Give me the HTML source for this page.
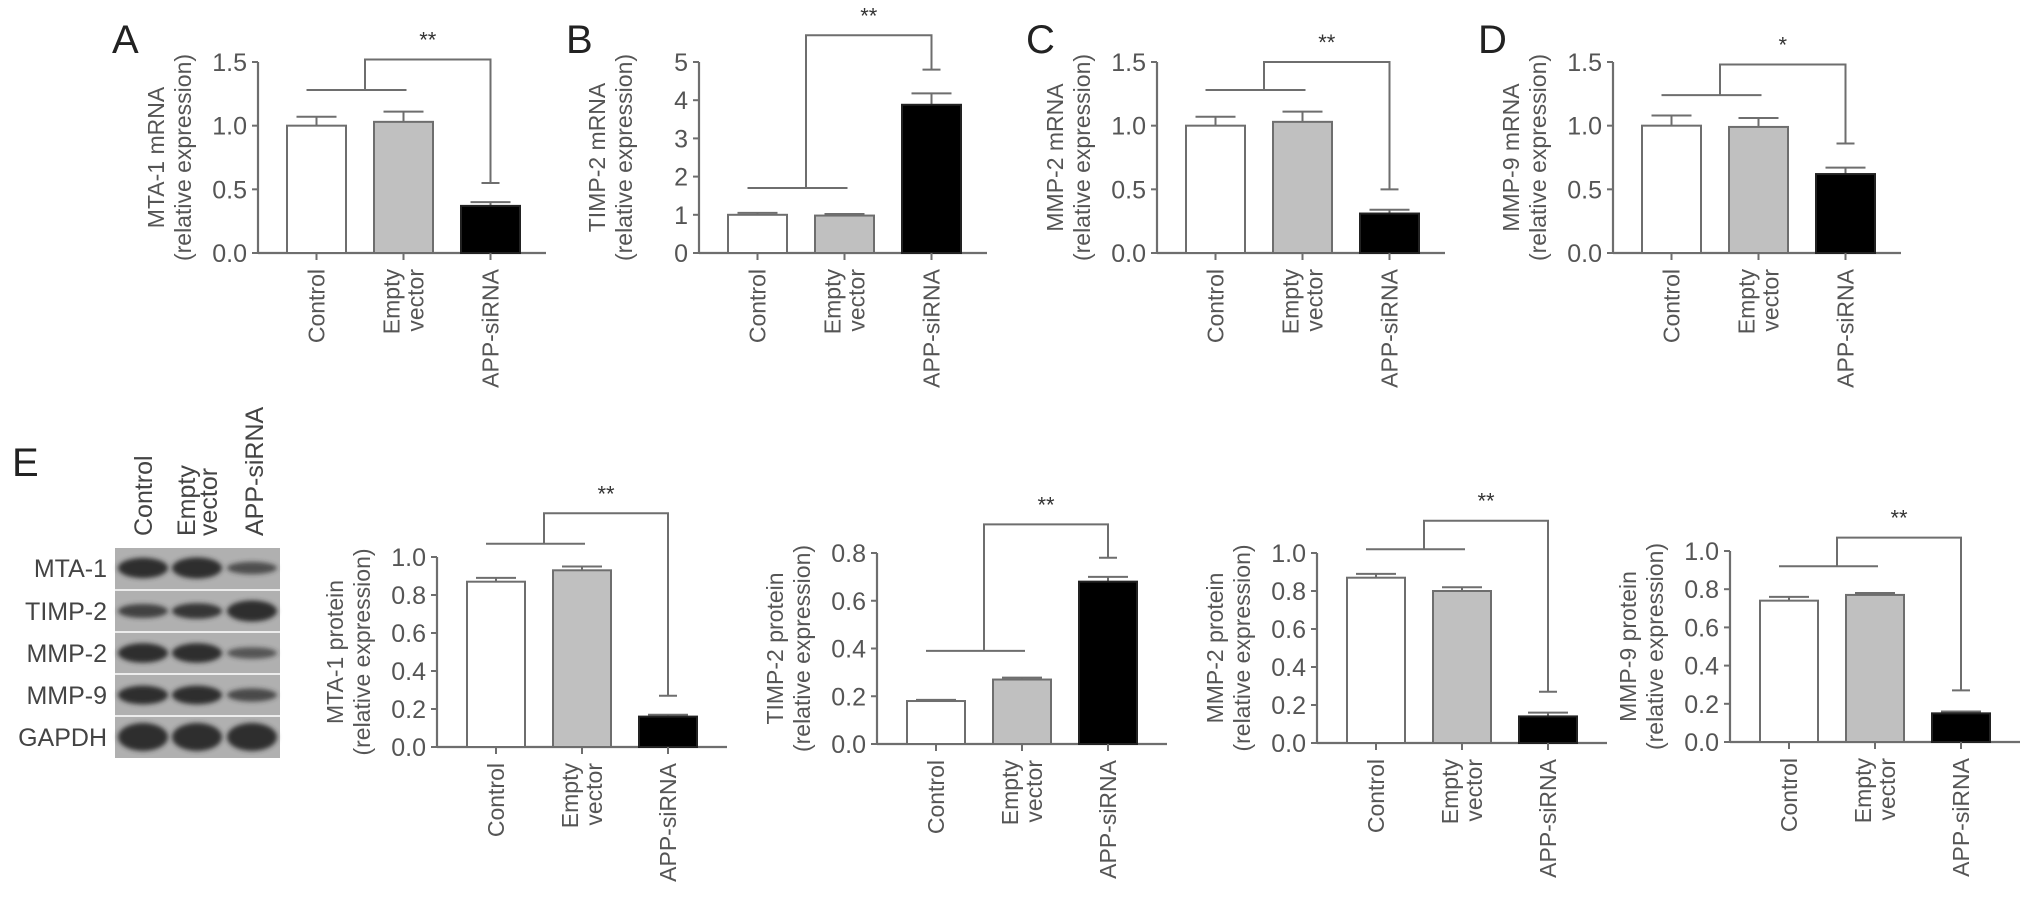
<!DOCTYPE html>
<html><head><meta charset="utf-8">
<style>
html,body{margin:0;padding:0;background:#fff;}
svg{display:block;font-family:"Liberation Sans",Arial,sans-serif;}
</style></head>
<body>
<svg id="fig" width="2032" height="914" viewBox="0 0 2032 914" xmlns="http://www.w3.org/2000/svg">
<defs>
<filter id="blur" x="-20%" y="-50%" width="140%" height="200%"><feGaussianBlur stdDeviation="2.5"/></filter>
</defs>
<g id="blot"></g>
<g id="charts"></g>
</svg>
<script>
const categories = ["Control", "Empty vector", "APP-siRNA"];
const fills = ["#ffffff", "#c0c0c0", "#000000"];

const valuesA = [1.0, 1.03, 0.37];
const errorsA = [0.07, 0.08, 0.03];
const valuesB = [1.0, 0.98, 3.88];
const errorsB = [0.05, 0.04, 0.30];
const valuesC = [1.0, 1.03, 0.31];
const errorsC = [0.07, 0.08, 0.03];
const valuesD = [1.0, 0.99, 0.62];
const errorsD = [0.08, 0.07, 0.05];
const valuesE1 = [0.87, 0.93, 0.16];
const errorsE1 = [0.02, 0.02, 0.01];
const valuesE2 = [0.18, 0.27, 0.68];
const errorsE2 = [0.005, 0.008, 0.02];
const valuesE3 = [0.87, 0.80, 0.14];
const errorsE3 = [0.02, 0.02, 0.02];
const valuesE4 = [0.74, 0.77, 0.15];
const errorsE4 = [0.02, 0.01, 0.01];

const ticksA = ["0.0", "0.5", "1.0", "1.5"];
const ticksB = ["0", "1", "2", "3", "4", "5"];
const ticksProt = ["0.0", "0.2", "0.4", "0.6", "0.8", "1.0"];
const ticksTimp = ["0.0", "0.2", "0.4", "0.6", "0.8"];

const bracketA = [1.28, 1.52, 0.55];
const bracketB = [1.7, 5.7, 4.8];
const bracketC = [1.28, 1.5, 0.5];
const bracketD = [1.24, 1.48, 0.86];
const bracketE1 = [1.07, 1.23, 0.27];
const bracketE2 = [0.39, 0.92, 0.78];
const bracketE3 = [1.02, 1.17, 0.27];
const bracketE4 = [0.92, 1.07, 0.27];

const blotRows = ["MTA-1", "TIMP-2", "MMP-2", "MMP-9", "GAPDH"];
const bandIntensity = [[0.9, 0.95, 0.4], [0.5, 0.6, 0.95], [0.85, 0.85, 0.35], [0.8, 0.8, 0.45], [1, 1, 1]];

const NS = "http://www.w3.org/2000/svg";
const svg = document.getElementById("fig");
const chartsG = document.getElementById("charts");
function mk(tag, attrs, parent) {
  const e = document.createElementNS(NS, tag);
  for (const k in attrs) e.setAttribute(k, attrs[k]);
  (parent || svg).appendChild(e);
  return e;
}
const LINE = "#6e6e6e", TXT = "#555";

function chart(o) {
  const g = mk("g", {}, chartsG);
  
  
  const y = v => o.y0 - (v / o.max) * (o.y0 - o.yTop);
  const cx = i => o.ax + o.off + o.bw / 2 + i * o.step;
  const ya = mk("line", {x1: o.ax, y1: o.yTop, x2: o.ax, y2: o.y0, stroke: LINE, "stroke-width": 2.2}, g);
  
  
  const xa = mk("line", {x1: o.ax, y1: o.y0, x2: o.ax + o.len, y2: o.y0, stroke: LINE, "stroke-width": 2.2}, g);
  
  
  o.ticks.forEach((t) => {
    const v = parseFloat(t), yy = y(v);
    mk("line", {x1: o.ax - 6, y1: yy, x2: o.ax, y2: yy, stroke: LINE, "stroke-width": 2}, g);
    const tl = mk("text", {x: o.ax - 11, y: yy + 9, "text-anchor": "end", "font-size": 25, fill: TXT}, g);
    tl.textContent = t;
    
    
  });
  const ty = (o.yTop + o.y0) / 2;
  const t1 = mk("text", {x: 0, y: 0, "text-anchor": "middle", "font-size": 23, fill: TXT, transform: `translate(${o.ax - 94},${ty}) rotate(-90)`}, g);
  t1.textContent = o.title;
  
  
  const t2 = mk("text", {x: 0, y: 0, "text-anchor": "middle", "font-size": 23, fill: TXT, transform: `translate(${o.ax - 67},${ty}) rotate(-90)`}, g);
  t2.textContent = "(relative expression)";
  
  
  o.vals.forEach((v, i) => {
    const c = cx(i), barTop = y(v), eTop = y(v + o.errs[i]);
    mk("line", {x1: c, y1: barTop, x2: c, y2: eTop, stroke: LINE, "stroke-width": 2}, g);
    mk("line", {x1: c - 20, y1: eTop, x2: c + 20, y2: eTop, stroke: LINE, "stroke-width": 2}, g);
    const r = mk("rect", {x: c - o.bw / 2, y: barTop, width: o.bw, height: o.y0 - barTop, fill: fills[i], stroke: i === 2 ? "#222" : LINE, "stroke-width": 2}, g);
    
    
    mk("line", {x1: c, y1: o.y0, x2: c, y2: o.y0 + 7, stroke: LINE, "stroke-width": 2}, g);
    const lines = i === 1 ? ["Empty", "vector"] : [categories[i]];
    lines.forEach((s, k) => {
      const dx = lines.length === 2 ? (k === 0 ? -4 : 20) : 8;
      const tx = mk("text", {x: 0, y: 0, "text-anchor": "end", "font-size": 23, fill: TXT, transform: `translate(${c + dx},${o.y0 + 16}) rotate(-90)`}, g);
      tx.textContent = s;
      
      
    });
  });
  const [lo, hi, dr] = o.br;
  const yl = y(lo), yh = y(hi), yd = y(dr);
  const lx1 = cx(0) - 10, lx2 = cx(1) + 3, mx = (cx(0) + cx(1)) / 2 + 5, rx = cx(2);
  const br = mk("path", {d: `M${lx1},${yl} L${lx2},${yl} M${mx},${yl} L${mx},${yh} L${rx},${yh} L${rx},${yd} M${rx - 9},${yd} L${rx + 9},${yd}`, fill: "none", stroke: LINE, "stroke-width": 2}, g);
  
  
  const st = mk("text", {x: (mx + rx) / 2, y: yh - 12, "text-anchor": "middle", "font-size": 22, fill: "#333"}, g);
  st.textContent = o.stars;
  
  
  if (o.letter) {
    const L = mk("text", {x: o.letter[0], y: o.letter[1], "font-size": 40, fill: "#222"}, g);
    L.textContent = o.letter[2];
    
    
  }
}

const topCfg = {yTop: 62, y0: 253, off: 29, bw: 59, step: 87, len: 288};
chart(Object.assign({}, topCfg, {name: "panel-a-chart", ax: 258, max: 1.5, ticks: ticksA, vals: valuesA, errs: errorsA, br: bracketA, stars: "**", title: "MTA-1 mRNA", letter: [112, 53, "A"]}));
chart(Object.assign({}, topCfg, {name: "panel-b-chart", ax: 699, max: 5, ticks: ticksB, vals: valuesB, errs: errorsB, br: bracketB, stars: "**", title: "TIMP-2 mRNA", letter: [566, 53, "B"]}));
chart(Object.assign({}, topCfg, {name: "panel-c-chart", ax: 1157, max: 1.5, ticks: ticksA, vals: valuesC, errs: errorsC, br: bracketC, stars: "**", title: "MMP-2 mRNA", letter: [1026, 53, "C"]}));
chart(Object.assign({}, topCfg, {name: "panel-d-chart", ax: 1613, max: 1.5, ticks: ticksA, vals: valuesD, errs: errorsD, br: bracketD, stars: "*", title: "MMP-9 mRNA", letter: [1478, 53, "D"]}));

const botCfg = {off: 30, bw: 58, step: 86, len: 290};
chart(Object.assign({}, botCfg, {name: "panel-e-mta1-chart", ax: 437, yTop: 557, y0: 747, max: 1.0, ticks: ticksProt, vals: valuesE1, errs: errorsE1, br: bracketE1, stars: "**", title: "MTA-1 protein"}));
chart(Object.assign({}, botCfg, {name: "panel-e-timp2-chart", ax: 877, yTop: 553, y0: 744, max: 0.8, ticks: ticksTimp, vals: valuesE2, errs: errorsE2, br: bracketE2, stars: "**", title: "TIMP-2 protein"}));
chart(Object.assign({}, botCfg, {name: "panel-e-mmp2-chart", ax: 1317, yTop: 553, y0: 743, max: 1.0, ticks: ticksProt, vals: valuesE3, errs: errorsE3, br: bracketE3, stars: "**", title: "MMP-2 protein"}));
chart(Object.assign({}, botCfg, {name: "panel-e-mmp9-chart", ax: 1730, yTop: 551, y0: 742, max: 1.0, ticks: ticksProt, vals: valuesE4, errs: errorsE4, br: bracketE4, stars: "**", title: "MMP-9 protein"}));

const blot = document.getElementById("blot");
const EL = mk("text", {x: 12, y: 476, "font-size": 40, fill: "#222"}, blot);
EL.textContent = "E";


mk("rect", {x: 115, y: 548, width: 165, height: 210, fill: "#b0b0b0"}, blot);
const rowTops = [548, 591, 633, 675, 717];
const lanes = [143, 197, 252];
rowTops.forEach((ry, r) => {
  if (r > 0) mk("line", {x1: 115, y1: ry - 1, x2: 280, y2: ry - 1, stroke: "#ececec", "stroke-width": 2}, blot);
  const cy = ry + 20;
  lanes.forEach((lx, l) => {
    const a = bandIntensity[r][l];
    const b = mk("ellipse", {cx: lx, cy: cy, rx: 25, ry: 3 + (r === 4 ? 11 : 8) * a, fill: "#2e2e2e", "fill-opacity": Math.min(1, 0.35 + a), filter: "url(#blur)"}, blot);
    
    
  });
  const lab = mk("text", {x: 107, y: cy + 9, "text-anchor": "end", "font-size": 25, fill: "#444"}, blot);
  lab.textContent = blotRows[r];
  
  
});
[["Control", 143], ["Empty", 186], ["vector", 208], ["APP-siRNA", 254]].forEach(([s, x]) => {
  const t = mk("text", {x: 0, y: 0, "font-size": 25, fill: "#444", transform: `translate(${x + 9},536) rotate(-90)`}, blot);
  t.textContent = s;
  
  
});
</script>
</body></html>
